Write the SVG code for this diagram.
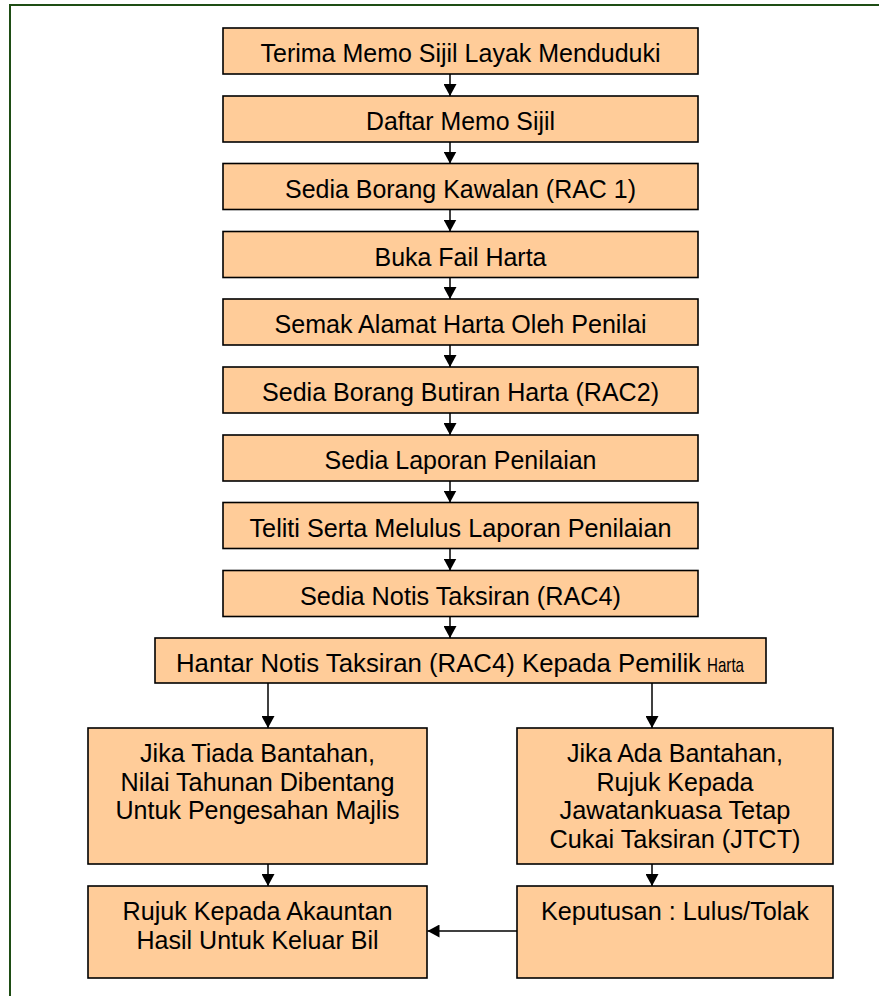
<svg xmlns="http://www.w3.org/2000/svg" width="879" height="996" viewBox="0 0 879 996">
<style>
.box{fill:#FFCC99;stroke:#000;stroke-width:1.6}
.t{font-family:"Liberation Sans",Arial,sans-serif;font-size:25px;fill:#000;text-anchor:middle}
.c{stroke:#000;stroke-width:1.5;fill:none;marker-end:url(#ah)}
</style>
<defs>
<marker id="ah" markerUnits="userSpaceOnUse" markerWidth="13" markerHeight="13" refX="12" refY="6.5" orient="auto">
<path d="M0,0 L12,6.5 L0,13 Z" fill="#000"/>
</marker>
</defs>
<rect width="879" height="996" fill="#fff"/>
<path d="M10,996 L10,5 L879,5" fill="none" stroke="#1e4d14" stroke-width="2"/>

<g id="n1"><rect class="box" x="223" y="28" width="475" height="46"/><text class="t" x="460.5" y="62" textLength="400" lengthAdjust="spacingAndGlyphs">Terima Memo Sijil Layak Menduduki</text></g>
<g id="n2"><rect class="box" x="223" y="96" width="475" height="46"/><text class="t" x="460.5" y="130" textLength="189" lengthAdjust="spacingAndGlyphs">Daftar Memo Sijil</text></g>
<g id="n3"><rect class="box" x="223" y="163.5" width="475" height="46"/><text class="t" x="460.5" y="197.5" textLength="351" lengthAdjust="spacingAndGlyphs">Sedia Borang Kawalan (RAC 1)</text></g>
<g id="n4"><rect class="box" x="223" y="231.5" width="475" height="46"/><text class="t" x="460.5" y="265.5" textLength="172" lengthAdjust="spacingAndGlyphs">Buka Fail Harta</text></g>
<g id="n5"><rect class="box" x="223" y="299" width="475" height="46"/><text class="t" x="460.5" y="333" textLength="372" lengthAdjust="spacingAndGlyphs">Semak Alamat Harta Oleh Penilai</text></g>
<g id="n6"><rect class="box" x="223" y="367" width="475" height="46"/><text class="t" x="460.5" y="401" textLength="397" lengthAdjust="spacingAndGlyphs">Sedia Borang Butiran Harta (RAC2)</text></g>
<g id="n7"><rect class="box" x="223" y="435" width="475" height="46"/><text class="t" x="460.5" y="469" textLength="272" lengthAdjust="spacingAndGlyphs">Sedia Laporan Penilaian</text></g>
<g id="n8"><rect class="box" x="223" y="502.5" width="475" height="46"/><text class="t" x="460.5" y="536.5" textLength="422" lengthAdjust="spacingAndGlyphs">Teliti Serta Melulus Laporan Penilaian</text></g>
<g id="n9"><rect class="box" x="223" y="570.5" width="475" height="46"/><text class="t" x="460.5" y="604.5" textLength="321" lengthAdjust="spacingAndGlyphs">Sedia Notis Taksiran (RAC4)</text></g>
<g id="n10"><rect class="box" x="155" y="638" width="611" height="45"/><text class="t" x="176" y="672" style="text-anchor:start" textLength="525" lengthAdjust="spacingAndGlyphs">Hantar Notis Taksiran (RAC4) Kepada Pemilik</text><text class="t" x="707" y="672" style="text-anchor:start;font-size:21px" textLength="37" lengthAdjust="spacingAndGlyphs">Harta</text></g>
<g id="n11"><rect class="box" x="88" y="728" width="339" height="136"/>
<text class="t" x="257.5" y="762" textLength="235" lengthAdjust="spacingAndGlyphs">Jika Tiada Bantahan,</text>
<text class="t" x="257.5" y="790.7" textLength="274" lengthAdjust="spacingAndGlyphs">Nilai Tahunan Dibentang</text>
<text class="t" x="257.5" y="819.4" textLength="284" lengthAdjust="spacingAndGlyphs">Untuk Pengesahan Majlis</text></g>
<g id="n12"><rect class="box" x="517" y="728" width="316" height="136"/>
<text class="t" x="675" y="762" textLength="216" lengthAdjust="spacingAndGlyphs">Jika Ada Bantahan,</text>
<text class="t" x="675" y="790.5" textLength="157" lengthAdjust="spacingAndGlyphs">Rujuk Kepada</text>
<text class="t" x="675" y="819" textLength="231" lengthAdjust="spacingAndGlyphs">Jawatankuasa Tetap</text>
<text class="t" x="675" y="847.5" textLength="251" lengthAdjust="spacingAndGlyphs">Cukai Taksiran (JTCT)</text></g>
<g id="n13"><rect class="box" x="88" y="886" width="339" height="92"/>
<text class="t" x="257.5" y="919.5" textLength="270" lengthAdjust="spacingAndGlyphs">Rujuk Kepada Akauntan</text>
<text class="t" x="257.5" y="948.5" textLength="242" lengthAdjust="spacingAndGlyphs">Hasil Untuk Keluar Bil</text></g>
<g id="n14"><rect class="box" x="517" y="886" width="316" height="92"/>
<text class="t" x="675" y="919.5" textLength="268" lengthAdjust="spacingAndGlyphs">Keputusan : Lulus/Tolak</text></g>

<g id="connectors">
<line class="c" x1="450" y1="74" x2="450" y2="96"/>
<line class="c" x1="450" y1="142" x2="450" y2="163.5"/>
<line class="c" x1="450" y1="209.5" x2="450" y2="231.5"/>
<line class="c" x1="450" y1="277.5" x2="450" y2="299"/>
<line class="c" x1="450" y1="345" x2="450" y2="367"/>
<line class="c" x1="450" y1="413" x2="450" y2="435"/>
<line class="c" x1="450" y1="481" x2="450" y2="502.5"/>
<line class="c" x1="450" y1="548.5" x2="450" y2="570.5"/>
<line class="c" x1="450" y1="616.5" x2="450" y2="638"/>
<line class="c" x1="268" y1="683" x2="268" y2="728"/>
<line class="c" x1="652" y1="683" x2="652" y2="728"/>
<line class="c" x1="268" y1="864" x2="268" y2="886"/>
<line class="c" x1="652" y1="864" x2="652" y2="886"/>
<line class="c" x1="517" y1="931" x2="427.5" y2="931"/>
</g>
</svg>
